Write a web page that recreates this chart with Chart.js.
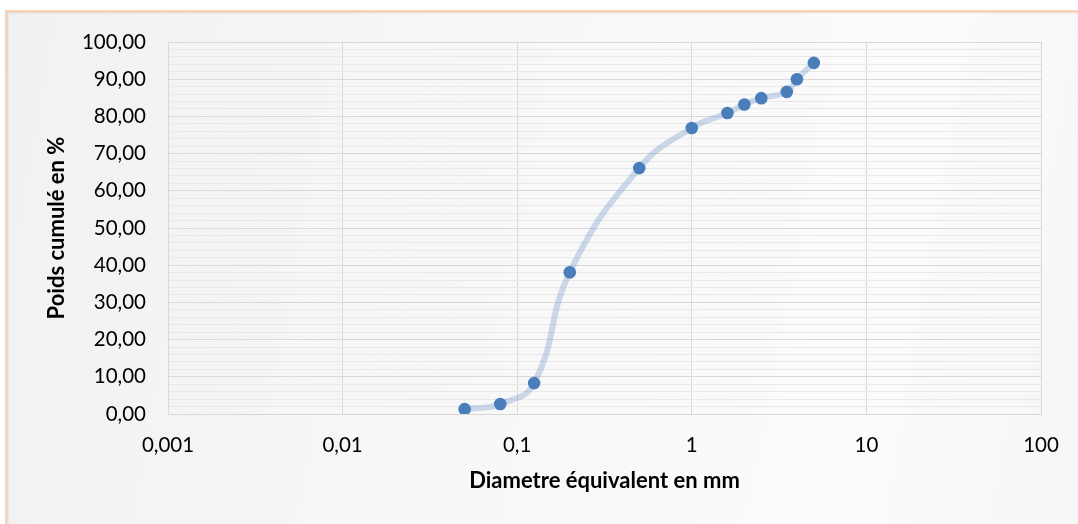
<!DOCTYPE html>
<html>
<head>
<meta charset="utf-8">
<script src="https://cdn.jsdelivr.net/npm/chart.js@4.4.1/dist/chart.umd.min.js"></script>
<style>
  html, body { margin: 0; padding: 0; width: 1078px; height: 524px; overflow: hidden; background: #ffffff; }
  #frame {
    position: absolute; left: 5px; top: 10px; width: 1200px; height: 700px;
    border: 2.5px solid #fbd3b2;
    box-shadow: inset 1px 1px 2px rgba(0,0,0,0.12);
    background: linear-gradient(100deg, #f1f1f1 0%, #f7f7f7 35%, #fbfbfb 70%, #f3f3f3 100%);
  }
  canvas { position: absolute; left: 0; top: 0; }
</style>
</head>
<body>
<div id="frame"></div>
<canvas id="c" width="1078" height="524"></canvas>
<script>
// ---- data ----
const diameters = [0.05, 0.08, 0.125, 0.2, 0.5, 1, 1.6, 2, 2.5, 3.5, 4, 5];
const cumulative = [1.3, 2.7, 8.3, 38.1, 66.1, 76.9, 80.9, 83.2, 84.9, 86.6, 90.0, 94.4];
const xTickValues = [0.001, 0.01, 0.1, 1, 10, 100];
const xTickLabels = ['0,001', '0,01', '0,1', '1', '10', '100'];
const yMajorTicks = [0, 10, 20, 30, 40, 50, 60, 70, 80, 90, 100];
const yTickLabels = ['0,00', '10,00', '20,00', '30,00', '40,00', '50,00', '60,00', '70,00', '80,00', '90,00', '100,00'];
const xTitle = 'Diametre équivalent en mm';
const yTitle = 'Poids cumulé en %';

const points = diameters.map((d, i) => ({ x: d, y: cumulative[i] }));
const FONT = 'Lato';

new Chart(document.getElementById('c'), {
  type: 'line',
  data: {
    datasets: [{
      data: points,
      borderColor: 'rgba(79,129,189,0.28)',
      borderWidth: 6,
      tension: 0.45,
      pointRadius: 6.3,
      pointHoverRadius: 6.3,
      pointBackgroundColor: '#4a7ebb',
      pointBorderColor: '#4a7ebb',
      pointBorderWidth: 0,
      fill: false
    }]
  },
  options: {
    responsive: false,
    animation: false,
    devicePixelRatio: 1,
    layout: { padding: { left: 0, top: 42, right: 37, bottom: 0 } },
    plugins: { legend: { display: false }, tooltip: { enabled: false } },
    scales: {
      x: {
        type: 'logarithmic',
        min: 0.001,
        max: 100,
        afterBuildTicks: (scale) => { scale.ticks = xTickValues.map(v => ({ value: v, major: true })); },
        afterFit: (scale) => { scale.height = 110; },
        ticks: {
          autoSkip: false, maxRotation: 0, minRotation: 0, padding: 19,
          color: '#000', font: { family: FONT, size: 20.5 },
          callback: (v, i) => xTickLabels[i]
        },
        grid: { color: '#d9d9d9', lineWidth: 1, drawTicks: false },
        border: { display: true, color: '#d9d9d9', width: 1 },
        title: {
          display: true, text: xTitle, color: '#000',
          font: { family: FONT, size: 22, weight: 'bold' },
          padding: { top: 0, bottom: 30 }
        }
      },
      y: {
        type: 'linear',
        min: 0,
        max: 100,
        afterFit: (scale) => { scale.width = 168; },
        ticks: {
          stepSize: 2, autoSkip: false, padding: 22,
          color: '#000', font: { family: FONT, size: 20.5 },
          callback: (v) => {
            const idx = yMajorTicks.indexOf(Math.round(v));
            return (Math.abs(v - Math.round(v)) < 1e-6 && idx >= 0) ? yTickLabels[idx] : '';
          }
        },
        grid: {
          drawTicks: false,
          lineWidth: 1,
          color: (ctx) => {
            const v = ctx.tick ? ctx.tick.value : 0;
            return (Math.round(v) % 10 === 0) ? '#d9d9d9' : '#e9e9e9';
          }
        },
        border: { display: true, color: '#d9d9d9', width: 1 },
        title: {
          display: true, text: yTitle, color: '#000',
          font: { family: FONT, size: 22, weight: 'bold' },
          padding: { top: 44, bottom: 0 }
        }
      }
    }
  }
});
</script>
</body>
</html>
